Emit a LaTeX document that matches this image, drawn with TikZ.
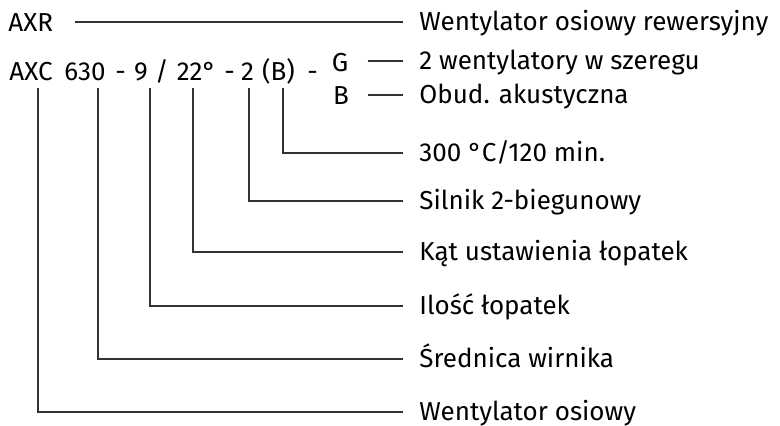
\documentclass[tikz,border=0pt]{standalone}
\usepackage{fontspec}
\setmainfont{Fira Sans}
\usepackage{tikz}
\usetikzlibrary{positioning}

\begin{document}
\begin{tikzpicture}[x=0.5pt, y=-0.5pt,
  txt/.style={inner sep=0pt, text height=8.9pt, text depth=0pt, font=\fontsize{13}{15}\selectfont},
  code/.style={txt, anchor=base},
  lbl/.style={txt, anchor=west},
  lead/.style={black!80, line width=0.65pt}]
\useasboundingbox (0,0) rectangle (780,425);
% type code
\node[txt, anchor=base west] (axr) at (8,31) {AXR};
\node[code] (axc) at (31,80) {AXC};
\node[code] (d630) at (85,80) {630};
\node[code] (dashA) at (120.5,80) {-};
\node[code] (n9) at (141,80) {9};
\node[code] (slash) at (162,80) {/};
\node[code] (k22) at (196.5,80) {22°};
\node[code] (dashB) at (229.5,80) {-};
\node[code] (p2) at (247.5,80) {2};
\node[code] (optBr) at (278.5,80) {(B)};
\node[code] (dashC) at (312.5,80) {-};
\node[code] (optG) at (340,71) {G};
\node[code] (optB) at (341,104) {B};
% meanings
\node[lbl] (rew) at (419,22) {Wentylator osiowy rewersyjny};
\node[lbl] (ser) at (419,61) {2 wentylatory w szeregu};
\node[lbl] (aku) at (419,95) {Obud. akustyczna};
\node[lbl] (fire) at (419,153) {300 °C/120 min.};
\node[lbl] (mot) at (419,201) {Silnik 2-biegunowy};
\node[lbl] (ang) at (419,252) {Kąt ustawienia łopatek};
\node[lbl] (bld) at (419,306) {Ilość łopatek};
\node[lbl] (dia) at (419,359) {Średnica wirnika};
\node[lbl] (went) at (419,412) {Wentylator osiowy};
% tap points below the code
\coordinate (tAxc) at (38,88);
\coordinate (t630) at (98,88);
\coordinate (t9) at (150,88);
\coordinate (t22) at (193,88);
\coordinate (t2) at (249,88);
\coordinate (tB) at (283,88);
% leaders
\draw[lead, shorten <=11pt, shorten >=8pt] (rew.west -| axr.east) -- (rew.west);
\draw[lead, shorten <=9.5pt, shorten >=8pt] (ser.west -| optG.east) -- (ser.west);
\draw[lead, shorten <=9.5pt, shorten >=8pt] (aku.west -| optB.east) -- (aku.west);
\draw[lead, shorten >=8pt] (tB) |- (fire.west);
\draw[lead, shorten >=8pt] (t2) |- (mot.west);
\draw[lead, shorten >=8pt] (t22) |- (ang.west);
\draw[lead, shorten >=8pt] (t9) |- (bld.west);
\draw[lead, shorten >=8pt] (t630) |- (dia.west);
\draw[lead, shorten >=8pt] (tAxc) |- (went.west);
\end{tikzpicture}
\end{document}
